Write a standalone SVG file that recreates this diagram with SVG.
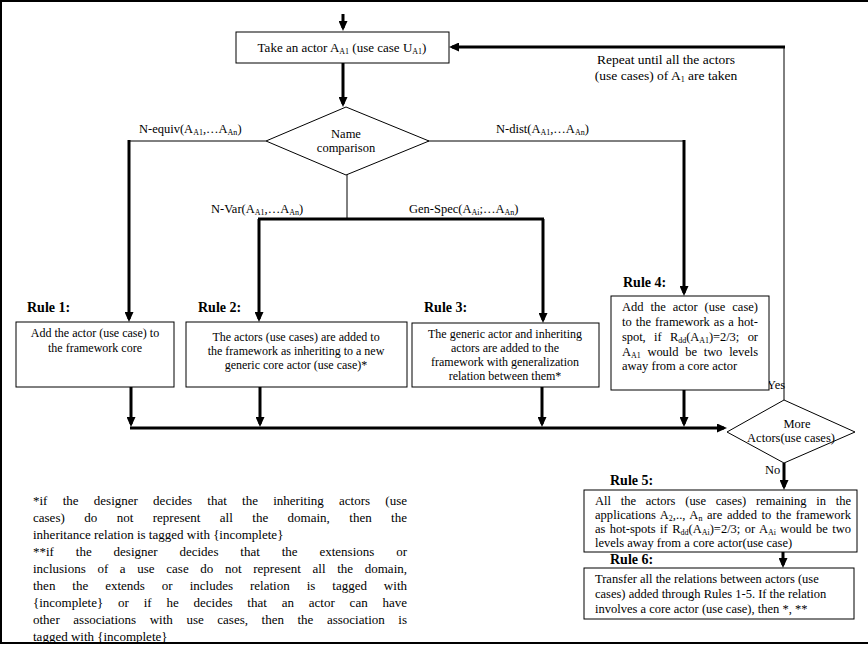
<svg xmlns="http://www.w3.org/2000/svg" width="868" height="654" viewBox="0 0 868 654">
<style>
text{font-family:"Liberation Serif","Times New Roman",serif;font-size:12px;fill:#000}
.c{text-anchor:middle}
.b{font-weight:bold;font-size:14px}
.lb{font-size:12.5px}
.r{font-size:12.5px}
.fn{font-size:13px}
.sb{font-size:8px}
.box{fill:#fff;stroke:#000;stroke-width:1}
.thin{stroke:#000;stroke-width:1;fill:none}
.thick{stroke:#000;stroke-width:3;fill:none}
.arr{stroke:#000;stroke-width:3;fill:none;marker-end:url(#ah)}
.frame{stroke:#000;stroke-width:2;fill:none}
</style>
<defs>
<marker id="ah" viewBox="0 0 10 9" markerWidth="10" markerHeight="9" refX="7" refY="4.5" orient="auto" markerUnits="userSpaceOnUse">
<path d="M0,0 L10,4.5 L0,9 z" fill="#000"/>
</marker>
<clipPath id="clipfn"><rect x="0" y="0" width="868" height="642"/></clipPath>
</defs>
<rect width="868" height="654" fill="#fff"/>
<g id="frame">
<line class="frame" x1="0" y1="1" x2="868" y2="1"/>
<line class="frame" x1="1" y1="0" x2="1" y2="643"/>
<line class="frame" x1="0" y1="643" x2="868" y2="643"/>
</g>

<g id="connectors">
<line class="arr" x1="343" y1="14" x2="343" y2="28"/>
<line class="arr" x1="343" y1="63" x2="343" y2="104"/>
<line class="thin" x1="784" y1="400" x2="784" y2="47" stroke-width="1.5"/>
<line class="arr" x1="785" y1="47" x2="452" y2="47"/>
<line class="thin" x1="266" y1="141" x2="129" y2="141"/>
<line class="arr" x1="129" y1="140" x2="129" y2="319"/>
<line class="thin" x1="426" y1="141" x2="684" y2="141"/>
<line class="arr" x1="684" y1="140" x2="684" y2="293"/>
<line class="thin" x1="347" y1="174" x2="347" y2="219"/>
<line class="thick" x1="258" y1="219" x2="544" y2="219"/>
<line class="arr" x1="259" y1="219" x2="259" y2="319"/>
<line class="arr" x1="543" y1="219" x2="543" y2="320"/>
<line class="arr" x1="131" y1="387" x2="131" y2="424"/>
<line class="arr" x1="260" y1="387" x2="260" y2="424"/>
<line class="arr" x1="542" y1="387" x2="542" y2="424"/>
<line class="arr" x1="684" y1="390" x2="684" y2="424"/>
<line class="arr" x1="130" y1="428" x2="724" y2="428"/>
<line class="arr" x1="784" y1="463" x2="784" y2="487"/>
<line class="arr" x1="783" y1="551" x2="783" y2="565"/>
<text class="lb" x="139" y="133">N-equiv(A<tspan class="sb" dy="2">A1</tspan><tspan dy="-2">,…A</tspan><tspan class="sb" dy="2">An</tspan><tspan dy="-2">)</tspan></text>
<text class="lb" x="496" y="133">N-dist(A<tspan class="sb" dy="2">A1</tspan><tspan dy="-2">,…A</tspan><tspan class="sb" dy="2">An</tspan><tspan dy="-2">)</tspan></text>
<text class="lb" x="211" y="213">N-Var(A<tspan class="sb" dy="2">A1</tspan><tspan dy="-2">,…A</tspan><tspan class="sb" dy="2">An</tspan><tspan dy="-2">)</tspan></text>
<text class="lb" x="409" y="213">Gen-Spec(A<tspan class="sb" dy="2">Ai</tspan><tspan dy="-2">;…A</tspan><tspan class="sb" dy="2">An</tspan><tspan dy="-2">)</tspan></text>
<text class="c" x="666" y="64" style="font-size:13.5px">Repeat until all the actors</text>
<text class="c" x="666" y="80" style="font-size:13.5px">(use cases) of A<tspan class="sb" dy="2">1</tspan><tspan dy="-2"> are taken</tspan></text>
<text class="lb" x="767" y="389">Yes</text>
<text class="lb" x="765" y="474">No</text>
</g>

<g id="start">
<rect class="box" x="236" y="32" width="213" height="31"/>
<text class="c" x="342" y="52" style="font-size:13px">Take an actor A<tspan class="sb" dy="2">A1</tspan><tspan dy="-2"> (use case U</tspan><tspan class="sb" dy="2">A1</tspan><tspan dy="-2">)</tspan></text>
</g>

<g id="name-comparison">
<polygon class="box" points="346,107 429,141 346,175 266,141"/>
<text class="c lb" x="346" y="138">Name</text>
<text class="c lb" x="346" y="152">comparison</text>
</g>

<g id="rule1">
<text class="b" x="27" y="312">Rule 1:</text>
<rect class="box" x="16" y="322" width="158" height="65"/>
<text class="c" x="95" y="337">Add the actor (use case) to</text>
<text class="c" x="95" y="352">the framework  core</text>
</g>

<g id="rule2">
<text class="b" x="198" y="312">Rule 2:</text>
<rect class="box" x="186" y="322" width="221" height="65"/>
<text class="c" x="296" y="341">The actors (use cases) are added to</text>
<text class="c" x="296" y="355">the framework as inheriting to a new</text>
<text class="c" x="296" y="369">generic core actor (use case)*</text>
</g>

<g id="rule3">
<text class="b" x="424" y="312">Rule 3:</text>
<rect class="box" x="412" y="323" width="187" height="64"/>
<text class="c" x="505" y="338">The generic actor and inheriting</text>
<text class="c" x="505" y="352">actors are added to the</text>
<text class="c" x="505" y="366">framework with generalization</text>
<text class="c" x="505" y="380">relation between them*</text>
</g>

<g id="rule4">
<text class="b" x="623" y="287">Rule 4:</text>
<rect class="box" x="611" y="296" width="158" height="94"/>
<text class="r" x="622" y="311" style="word-spacing:3.8px" textLength="136" lengthAdjust="spacing">Add the actor (use case)</text>
<text class="r" x="622" y="326" style="word-spacing:0.9px" textLength="136" lengthAdjust="spacing">to the framework as a hot-</text>
<text class="r" x="622" y="341" style="word-spacing:5.4px" textLength="136" lengthAdjust="spacing">spot, if R<tspan class="sb" dy="2">dd</tspan><tspan dy="-2">(A</tspan><tspan class="sb" dy="2">A1</tspan><tspan dy="-2">)=2/3; or</tspan></text>
<text class="r" x="622" y="356" style="word-spacing:3.8px" textLength="136" lengthAdjust="spacing">A<tspan class="sb" dy="2">A1</tspan><tspan dy="-2"> would be two levels</tspan></text>
<text class="r" x="622" y="370">away from a core actor</text>
</g>

<g id="more-actors">
<polygon class="box" points="784,400 855,432 784,463 727,432"/>
<text class="c lb" x="797" y="428">More</text>
<text class="c lb" x="791" y="442">Actors(use cases)</text>
</g>

<g id="rule5">
<text class="b" x="610" y="485">Rule 5:</text>
<rect class="box" x="584" y="490" width="273" height="62"/>
<text class="r" x="595" y="505" style="word-spacing:6.7px" textLength="256" lengthAdjust="spacing">All the actors (use cases) remaining in the</text>
<text class="r" x="595" y="519" style="word-spacing:1.4px" textLength="256" lengthAdjust="spacing">applications A<tspan class="sb" dy="2">2</tspan><tspan dy="-2">,.., A</tspan><tspan class="sb" dy="2">n</tspan><tspan dy="-2"> are added to the framework</tspan></text>
<text class="r" x="595" y="533" style="word-spacing:1.3px" textLength="256" lengthAdjust="spacing">as hot-spots if R<tspan class="sb" dy="2">dd</tspan><tspan dy="-2">(A</tspan><tspan class="sb" dy="2">Ai</tspan><tspan dy="-2">)=2/3; or A</tspan><tspan class="sb" dy="2">Ai</tspan><tspan dy="-2"> would be two</tspan></text>
<text class="r" x="595" y="547">levels away from a core actor(use case)</text>
</g>

<g id="rule6">
<text class="b" x="610" y="564">Rule 6:</text>
<rect class="box" x="584" y="568" width="270" height="51"/>
<text class="r" x="595" y="583">Transfer all the relations between actors (use</text>
<text class="r" x="595" y="598">cases) added through Rules 1-5. If the relation</text>
<text class="r" x="595" y="613">involves a core actor (use case), then *, **</text>
</g>

<g id="footnotes" clip-path="url(#clipfn)">
<text class="fn" x="33" y="505" style="word-spacing:12px" textLength="374" lengthAdjust="spacing">*if the designer decides that the inheriting actors (use</text>
<text class="fn" x="33" y="522" style="word-spacing:16.2px" textLength="374" lengthAdjust="spacing">cases) do not represent all the domain, then the</text>
<text class="fn" x="33" y="539">inheritance relation is tagged with {incomplete}</text>
<text class="fn" x="33" y="556" style="word-spacing:18.6px" textLength="374" lengthAdjust="spacing">**if the designer decides that the extensions or</text>
<text class="fn" x="33" y="573" style="word-spacing:8.4px" textLength="374" lengthAdjust="spacing">inclusions of a use case do not represent all the domain,</text>
<text class="fn" x="33" y="590" style="word-spacing:13.7px" textLength="374" lengthAdjust="spacing">then the extends or includes relation is tagged with</text>
<text class="fn" x="33" y="607" style="word-spacing:11.6px" textLength="374" lengthAdjust="spacing">{incomplete} or if he decides that an actor can have</text>
<text class="fn" x="33" y="624" style="word-spacing:10.3px" textLength="374" lengthAdjust="spacing">other associations with use cases, then the association is</text>
<text class="fn" x="33" y="641">tagged with {incomplete}</text>
</g>
</svg>
